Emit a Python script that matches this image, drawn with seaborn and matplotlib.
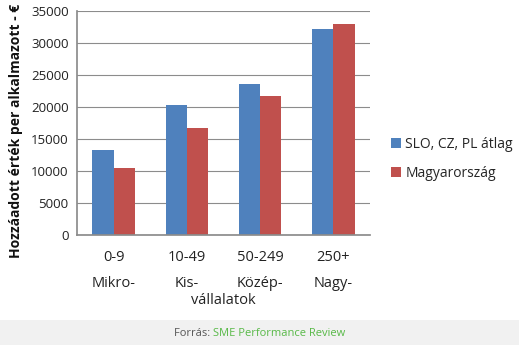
import matplotlib
matplotlib.use("Agg")
import matplotlib.pyplot as plt
import seaborn as sns
import pandas as pd
from matplotlib.patches import Rectangle

categories = ["0-9\nMikro-", "10-49\nKis-", "50-249\nKözép-", "250+\nNagy-"]
series_names = ["SLO, CZ, PL átlag", "Magyarország"]
slo_values = [13300, 20300, 23600, 32200]
hu_values = [10500, 16700, 21700, 33000]
yticks = [0, 5000, 10000, 15000, 20000, 25000, 30000, 35000]

df = pd.DataFrame({
    "cat": categories * 2,
    "series": [series_names[0]] * 4 + [series_names[1]] * 4,
    "value": slo_values + hu_values,
})

sns.set_theme(style="white")
plt.rcParams['font.family'] = ['Open Sans', 'DejaVu Sans']

W, H = 519, 345
fig = plt.figure(figsize=(W / 100, H / 100), dpi=100)
fig.patch.set_facecolor("white")
ax = fig.add_axes([77 / W, 1 - 235 / H, (370 - 77) / W, (235 - 11) / H])

sns.barplot(data=df, x="cat", y="value", hue="series", ax=ax,
            palette=["#4F81BD", "#C0504D"], width=0.58, saturation=1,
            edgecolor="none", legend=True)

ax.set_ylim(0, 35000)
ax.set_yticks(yticks)
ax.set_yticklabels([str(v) for v in yticks], fontsize=9.5, color="#222222")
ax.yaxis.grid(True, color="#8c8c8c", linewidth=0.8)
ax.set_axisbelow(True)
for s in ["top", "right"]:
    ax.spines[s].set_visible(False)
ax.spines["left"].set_color("#8c8c8c")
ax.spines["bottom"].set_color("#8c8c8c")
ax.tick_params(axis="y", length=0, pad=6)
ax.tick_params(axis="x", length=0, pad=11)
ax.set_xticks(range(len(categories)))
ax.set_xticklabels(categories, fontsize=10.5, color="#222222", linespacing=1.95)
ax.set_xlabel("")
ax.set_ylabel("Hozzáadott érték per alkalmazott - €", fontsize=10,
              fontweight="bold", color="#111111")
ax.yaxis.set_label_coords(-(77 - 16) / (370 - 77), (235 - 131) / 224)
ax.yaxis.label.set_va("center")

ax.text(1.5, -(300 - 235) / 224, "vállalatok", transform=ax.get_xaxis_transform(),
        ha="center", va="center", fontsize=10.5, color="#222222")

leg = ax.legend(loc="center left", bbox_to_anchor=(1.03, (235 - 159) / 224),
                frameon=False, fontsize=10, handlelength=0.7, handleheight=0.7,
                handletextpad=0.3, labelspacing=1.0)

fig.patches.append(Rectangle((0, 0), 1, 25 / H, transform=fig.transFigure,
                             facecolor="#f1f1f1", edgecolor="none", zorder=0))
t1 = fig.text(0.5, 12 / H, "Forrás: ", ha="right", va="center",
              fontsize=8, color="#555555")
t2 = fig.text(0.5, 12 / H, "SME Performance Review", ha="left", va="center",
              fontsize=8, color="#58b947")
fig.canvas.draw()
r = fig.canvas.get_renderer()
w1 = t1.get_window_extent(r).width
w2 = t2.get_window_extent(r).width
off = (w1 - w2) / 2 / W
t1.set_x(0.5 + off)
t2.set_x(0.5 + off)

fig.savefig("out.png", dpi=100)
